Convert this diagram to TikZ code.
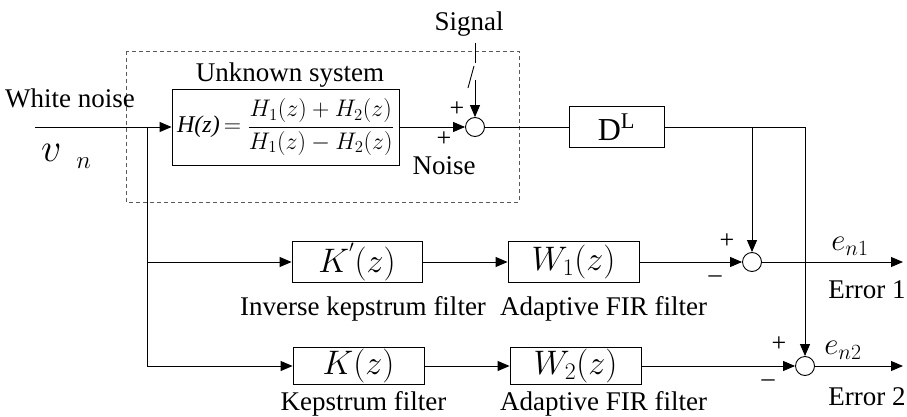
\RequirePackage{fix-cm}
\documentclass[tikz,border=0pt]{standalone}
\usepackage{fontspec}
\setmainfont{Liberation Serif}
\usetikzlibrary{arrows.meta, calc, positioning}

\begin{document}
\begin{tikzpicture}[x=1pt, y=-1pt, >={Triangle[length=12pt, width=10pt]}, line width=0.9pt,
	block/.style={draw, minimum height=41pt, inner sep=0pt},
	sumnode/.style={draw, circle, minimum size=19pt, inner sep=0pt},
	lbl/.style={inner sep=0pt, font=\fontsize{27}{31}\selectfont},
	sgn/.style={inner sep=0pt, font=\fontsize{26}{30}\selectfont},
	tf/.style={font=\fontsize{34}{38}\selectfont}]
	
	\useasboundingbox (0,0) rectangle (907,417);
	
	% -------------------------------------------------------------------------
	% 1. Parameters (row heights)
	% -------------------------------------------------------------------------
	\def\rowTop{127}  % main path
	\def\rowA{262}    % inverse kepstrum path
	\def\rowB{366}    % kepstrum path
	\def\xOut{903}    % end of output arrows
	
	% -------------------------------------------------------------------------
	% 2. Unknown system (dashed frame)
	% -------------------------------------------------------------------------
	\draw[dashed, dash pattern=on 4pt off 3pt, gray!70!black, line width=0.8pt]
	(126,51) rectangle (519,202);
	\node[lbl] (unk) at (290,75) {Unknown system};
	
	\node[block, minimum width=227pt, minimum height=76pt, font=\fontsize{24}{28}\selectfont]
	(H) at (285.5,\rowTop) {\textit{H(z)}$\,=\displaystyle\frac{H_1(z)+H_2(z)}{H_1(z)-H_2(z)}$};
	
	\node[sgn] (p0a) at (457,109) {+};
	\node[sgn] (p0b) at (444,139) {+};
	\node[lbl] (noise) at (444,166) {Noise};
	\node[sumnode] (S0) at (475,\rowTop) {};
	
	% signal input with switch
	\node[lbl] (sig) at (469,24) {Signal};
	\coordinate (SwA) at (475,43);
	\coordinate (SwB) at (475,63);
	\coordinate (SwC) at (474,66);
	\coordinate (SwD) at (468,88);
	\coordinate (SwE) at (475,80);
	\draw (SwA) -- (SwB);
	\draw (SwC) -- (SwD);
	\draw[->] (SwE) -- (S0.north);
	
	% -------------------------------------------------------------------------
	% 3. Input and main path
	% -------------------------------------------------------------------------
	\coordinate (In) at (35,\rowTop);
	\coordinate (Br) at (147,\rowTop);
	\node[lbl] (wn) at (70,98) {White noise};
	\node[inner sep=0pt] (vn) at (66,156)
	{{\fontsize{40}{42}\selectfont$v$}\hspace{15pt}\raisebox{-7pt}{\fontsize{25}{28}\selectfont$n$}};
	
	\draw[->] (In) -- (H.west);
	\draw[->] (H.east) -- (S0.west);
	
	\node[block, minimum width=95pt, font=\fontsize{32}{36}\selectfont] (D) at (616.5,\rowTop) {D\textsuperscript{L}};
	\draw (S0.east) -- (D.west);
	
	% -------------------------------------------------------------------------
	% 4. Filter paths
	% -------------------------------------------------------------------------
	\node[block, minimum width=130pt, tf] (Kp) at (357,\rowA) {$K^{'}(z)$};
	\node[block, minimum width=131pt, tf] (W1) at (573.5,\rowA) {$W_1(z)$};
	\node[block, minimum width=131pt, minimum height=37pt, tf] (K) at (358.5,\rowB) {$K(z)$};
	\node[block, minimum width=131pt, minimum height=37pt, tf] (W2) at (575.5,\rowB) {$W_2(z)$};
	
	\node[lbl, below=13pt of Kp, xshift=6pt] (lKp) {Inverse kepstrum filter};
	\node[lbl, below=13pt of W1, xshift=30pt] (lW1) {Adaptive FIR filter};
	\node[lbl, below=6pt of K, xshift=5pt] (lK) {Kepstrum filter};
	\node[lbl, below=6pt of W2, xshift=28pt] (lW2) {Adaptive FIR filter};
	
	\draw[->] (Br) |- (Kp.west);
	\draw[->] (Br) |- (K.west);
	\draw[->] (Kp) -- (W1);
	\draw[->] (K) -- (W2);
	
	% -------------------------------------------------------------------------
	% 5. Error nodes
	% -------------------------------------------------------------------------
	\node[sumnode] (S1) at (752,\rowA) {};
	\node[sumnode] (S2) at (805,\rowB) {};
	\coordinate (T1) at (S1 |- D.east);
	\coordinate (T2) at (S2 |- D.east);
	
	\draw (D.east) -- (T2);
	\draw[->] (T1) -- (S1.north);
	\draw[->] (T2) -- (S2.north);
	\draw[->] (W1) -- (S1);
	\draw[->] (W2) -- (S2);
	
	\node[sgn] (p1) at (727,241) {+};
	\node[sgn] (m1) at (715,279) {\textendash};
	\node[sgn] (p2) at (779,344) {+};
	\node[sgn] (m2) at (768,383) {\textendash};
	
	\coordinate (E1) at (\xOut,\rowA);
	\coordinate (E2) at (\xOut,\rowB);
	\draw[->] (S1) -- (E1);
	\draw[->] (S2) -- (E2);
	
	\node[font=\fontsize{31}{34}\selectfont, inner sep=0pt] (e1) at (850,246) {$e_{n1}$};
	\node[font=\fontsize{31}{34}\selectfont, inner sep=0pt] (e2) at (843,350) {$e_{n2}$};
	\node[lbl] (err1) at (867,290) {Error 1};
	\node[lbl] (err2) at (867,397) {Error 2};
	
\end{tikzpicture}
\end{document}
